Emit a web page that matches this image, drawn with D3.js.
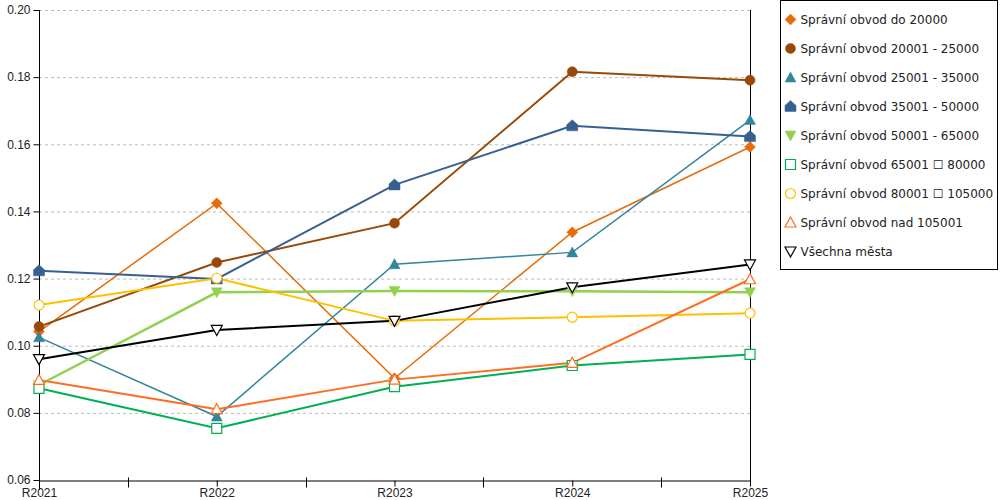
<!DOCTYPE html>
<html>
<head>
<meta charset="utf-8">
<script src="https://cdn.jsdelivr.net/npm/d3@7.9.0/dist/d3.min.js"></script>
<style>
  body { margin: 0; background: #fff; }
  svg { font-family: 'DejaVu Sans', Verdana, sans-serif; }
  .grid line { stroke: #bbb; stroke-dasharray: 3 3; }
  .grid .domain { display: none; }
  .axis text { font-size: 12px; fill: #222; }
  .axis line, .axis path { stroke: #000; }
</style>
</head>
<body>
<svg id="chart" width="1000" height="500"></svg>
<script>
const years = ['R2021', 'R2022', 'R2023', 'R2024', 'R2025'];
const yTicks = [0.06, 0.08, 0.10, 0.12, 0.14, 0.16, 0.18, 0.20];

const seriesNames = [
  'Správní obvod do 20000',
  'Správní obvod 20001 - 25000',
  'Správní obvod 25001 - 35000',
  'Správní obvod 35001 - 50000',
  'Správní obvod 50001 - 65000',
  'Správní obvod 65001 \u2610 80000',
  'Správní obvod 80001 \u2610 105000',
  'Správní obvod nad 105001',
  'Všechna města'
];

const do20000   = [0.1042, 0.1424, 0.0903, 0.1338, 0.1592];
const do25000   = [0.1057, 0.1248, 0.1365, 0.1816, 0.1791];
const do35000   = [0.1025, 0.0789, 0.1243, 0.1278, 0.1672];
const do50000   = [0.1223, 0.1199, 0.1479, 0.1655, 0.1623];
const do65000   = [0.0883, 0.1159, 0.1163, 0.1162, 0.1159];
const do80000   = [0.0873, 0.0754, 0.0878, 0.0941, 0.0974];
const do105000  = [0.1121, 0.1201, 0.1074, 0.1085, 0.1097];
const nad105001 = [0.0898, 0.0811, 0.0899, 0.0949, 0.1198];
const vsechna   = [0.0960, 0.1047, 0.1074, 0.1174, 0.1242];

const seriesValues = [do20000, do25000, do35000, do50000, do65000, do80000, do105000, nad105001, vsechna];

// colour, line width, marker kind, filled?
const styles = [
  { color: '#E46C0A', width: 1.5, marker: 'diamond', fill: true },
  { color: '#984807', width: 2,   marker: 'circle',  fill: true },
  { color: '#31859C', width: 1.5, marker: 'triangle', fill: true },
  { color: '#376092', width: 2,   marker: 'house',   fill: true },
  { color: '#92D050', width: 2.5, marker: 'down',    fill: true },
  { color: '#00B050', width: 2,   marker: 'square',  fill: false },
  { color: '#FFC000', width: 2,   marker: 'circle',  fill: false },
  { color: '#FF6D1F', width: 2,   marker: 'triangle', fill: false },
  { color: '#000000', width: 2,   marker: 'down',    fill: false }
];

const markerPaths = {
  diamond: 'M0,-5.5L5.5,0L0,5.5L-5.5,0Z',
  circle: d3.path(),
  triangle: 'M0,-5.5L5.5,4.5L-5.5,4.5Z',
  down: 'M0,5.5L5.5,-4.5L-5.5,-4.5Z',
  house: 'M-5.5,5L5.5,5L5.5,-1L0,-6L-5.5,-1Z',
  square: 'M-5,-5L5,-5L5,5L-5,5Z'
};
const cp = d3.path(); cp.arc(0, 0, 5, 0, 2 * Math.PI); markerPaths.circle = cp.toString();

const series = seriesNames.map((name, i) => ({ name, values: seriesValues[i], ...styles[i] }));

const svg = d3.select('#chart');
const plot = { left: 39, right: 750, top: 10, bottom: 480 };

const x = d3.scalePoint().domain(years).range([plot.left, plot.right]);
const y = d3.scaleLinear().domain([0.06, 0.20]).range([plot.bottom, plot.top]);

// gridlines
svg.append('g')
  .attr('class', 'grid')
  .attr('transform', `translate(${plot.left},0)`)
  .call(d3.axisLeft(y).tickValues(yTicks.slice(1)).tickFormat('').tickSize(-(plot.right - plot.left)));

// right border
svg.append('line')
  .attr('x1', plot.right + 0.5).attr('x2', plot.right + 0.5)
  .attr('y1', plot.top).attr('y2', plot.bottom + 6)
  .attr('stroke', '#000');

// y axis
const yAxis = svg.append('g')
  .attr('class', 'axis')
  .attr('transform', `translate(${plot.left + 0.5},0)`)
  .call(d3.axisLeft(y).tickValues(yTicks).tickFormat(d3.format('.2f')).tickSize(6).tickPadding(3));
yAxis.select('.domain').attr('d', `M0,${plot.top}V${plot.bottom + 10}`);

// x axis
const xAxis = svg.append('g')
  .attr('class', 'axis')
  .attr('transform', `translate(0,${plot.bottom + 0.5})`)
  .call(d3.axisBottom(x).tickSize(6).tickPadding(2).tickSizeOuter(0));
xAxis.selectAll('.tick text').attr('dy', '0.71em');

// minor ticks between categories
const mids = d3.pairs(years).map(([a, b]) => (x(a) + x(b)) / 2);
xAxis.selectAll('.mid')
  .data(mids)
  .join('line')
  .attr('class', 'mid')
  .attr('x1', d => Math.round(d) + 0.5).attr('x2', d => Math.round(d) + 0.5)
  .attr('y1', -3).attr('y2', 7)
  .attr('stroke', '#000');

// lines
const line = d3.line().x((d, i) => x(years[i])).y(d => y(d));

const g = svg.append('g');
g.selectAll('.series')
  .data(series)
  .join('path')
  .attr('class', 'series')
  .attr('fill', 'none')
  .attr('stroke', d => d.color)
  .attr('stroke-width', d => d.width)
  .attr('d', d => line(d.values));

// markers
series.forEach(s => {
  g.selectAll(null)
    .data(s.values)
    .join('path')
    .attr('transform', (d, i) => `translate(${x(years[i])},${y(d)})`)
    .attr('d', markerPaths[s.marker])
    .attr('fill', s.fill ? s.color : '#fff')
    .attr('stroke', s.color)
    .attr('stroke-width', s.fill ? 0.5 : 1.2);
});

// legend
const legend = svg.append('g').attr('transform', 'translate(780.5,0.5)');
legend.append('rect')
  .attr('width', 217).attr('height', 269)
  .attr('fill', '#fff').attr('stroke', '#000');

const items = legend.selectAll('.item')
  .data(series)
  .join('g')
  .attr('class', 'item')
  .attr('transform', (d, i) => `translate(10,${19 + i * 29})`);

items.append('path')
  .attr('d', d => markerPaths[d.marker])
  .attr('fill', d => d.fill ? d.color : '#fff')
  .attr('stroke', d => d.color)
  .attr('stroke-width', d => d.fill ? 0.5 : 1.2);

items.append('text')
  .attr('x', 10)
  .attr('dy', '0.35em')
  .attr('font-size', 12)
  .attr('fill', '#222')
  .text(d => d.name);
</script>
</body>
</html>
